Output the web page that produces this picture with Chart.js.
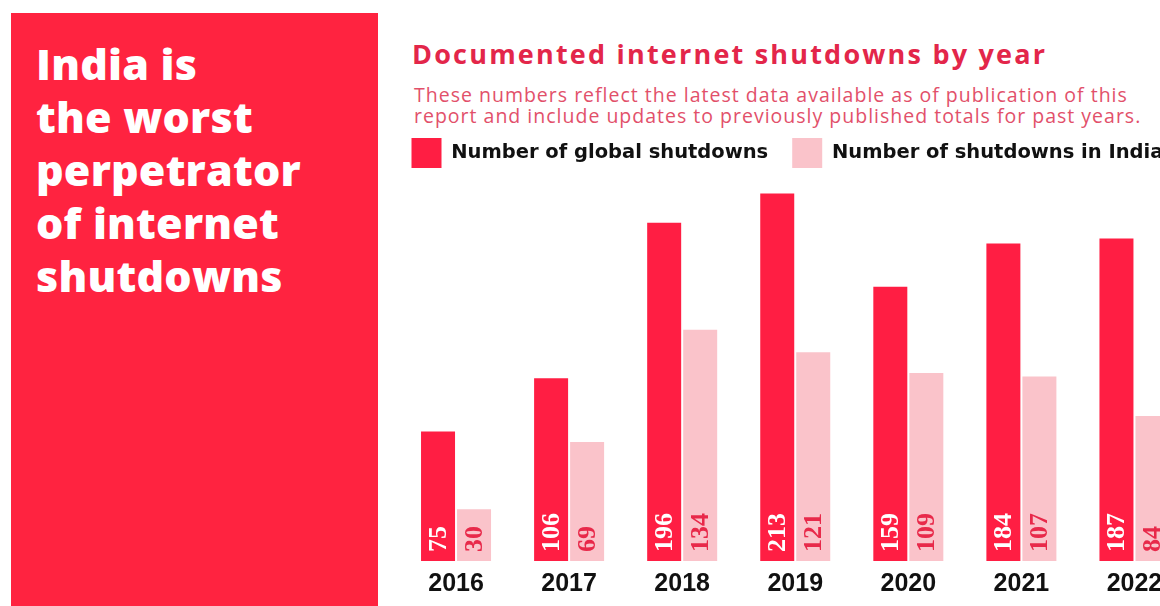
<!DOCTYPE html>
<html>
<head>
<meta charset="utf-8">
<script src="https://cdn.jsdelivr.net/npm/chart.js@4.4.1/dist/chart.umd.min.js"></script>
<style>
    html, body {
        margin: 0;
        padding: 0;
        width: 1160px;
        height: 606px;
        overflow: hidden;
        background: #ffffff;
    }
    .side {
        position: absolute;
        left: 11px;
        top: 13px;
        width: 367px;
        height: 593px;
        background: #ff2340;
    }
    .side h1 {
        position: absolute;
        left: 25px;
        top: 24px;
        margin: 0;
        font-family: 'Open Sans', sans-serif;
        font-weight: 800;
        font-size: 43px;
        line-height: 53px;
        color: #ffffff;
        letter-spacing: 0.2px;
    }
    .head {
        position: absolute;
        left: 412px;
        top: 34px;
    }
    .head h2 {
        margin: 0;
        font-family: 'Open Sans', sans-serif;
        font-weight: 700;
        font-size: 27px;
        line-height: 40px;
        letter-spacing: 2.2px;
        color: #e3264a;
        white-space: nowrap;
    }
    .head p {
        margin: 10px 0 0 2px;
        font-family: 'Open Sans', sans-serif;
        font-size: 19.5px;
        line-height: 21px;
        letter-spacing: 1px;
        color: #e2506a;
        white-space: nowrap;
    }
    .chart-box {
        position: absolute;
        left: 380px;
        top: 113px;
        width: 811px;
        height: 493px;
    }
</style>
</head>
<body>
<div class="side">
    <h1>India is<br>the worst<br>perpetrator<br>of internet<br>shutdowns</h1>
</div>
<div class="head">
    <h2>Documented internet shutdowns by year</h2>
    <p>These numbers reflect the latest data available as of publication of this<br>report and include updates to previously published totals for past years.</p>
</div>
<div class="chart-box">
    <canvas id="shutdown-chart"></canvas>
</div>

<script>
    // данные с картинки
    const years = ['2016', '2017', '2018', '2019', '2020', '2021', '2022'];
    const globalShutdowns = [75, 106, 196, 213, 159, 184, 187];
    const indiaShutdowns = [30, 69, 134, 121, 109, 107, 84];

    const colors = {
        red: '#ff1e43',
        pink: '#fac3ca',
        labelRed: '#e8294a'
    };

    // подписи значений внутри столбцов, повернутые на 90°
    const barLabelsPlugin = {
        id: 'barLabelsPlugin',
        afterDatasetsDraw(chart) {
            const ctx = chart.ctx;
            chart.data.datasets.forEach((ds, i) => {
                const meta = chart.getDatasetMeta(i);
                meta.data.forEach((bar, j) => {
                    ctx.save();
                    ctx.translate(bar.x, bar.base - 9);
                    ctx.rotate(-Math.PI / 2);
                    ctx.font = "bold 26px 'Liberation Serif', serif";
                    ctx.fillStyle = i === 0 ? '#ffffff' : colors.labelRed;
                    ctx.textAlign = 'left';
                    ctx.textBaseline = 'middle';
                    ctx.fillText(ds.data[j], 0, 1);
                    ctx.restore();
                });
            });
        }
    };

    new Chart(document.getElementById('shutdown-chart'), {
        type: 'bar',
        data: {
            labels: years,
            datasets: [{
                label: 'Number of global shutdowns',
                data: globalShutdowns,
                backgroundColor: colors.red,
                borderWidth: 0
            }, {
                label: 'Number of shutdowns in India',
                data: indiaShutdowns,
                backgroundColor: colors.pink,
                borderWidth: 0
            }]
        },
        options: {
            responsive: true,
            maintainAspectRatio: false,
            animation: false,
            events: [],
            categoryPercentage: 0.637,
            barPercentage: 0.944,
            layout: {
                padding: {left: 7.5, right: 0, top: 1, bottom: 7}
            },
            plugins: {
                legend: {
                    display: true,
                    position: 'top',
                    align: 'start',
                    labels: {
                        boxWidth: 30,
                        boxHeight: 30,
                        padding: 24,
                        font: {
                            family: "'DejaVu Sans', sans-serif",
                            size: 19.5,
                            weight: 'bold'
                        },
                        color: '#111111'
                    }
                },
                tooltip: {enabled: false}
            },
            scales: {
                x: {
                    grid: {display: false},
                    border: {display: false},
                    ticks: {
                        padding: 0,
                        color: '#111111',
                        font: {
                            family: "'Liberation Sans', sans-serif",
                            size: 25,
                            weight: 'bold'
                        }
                    }
                },
                y: {
                    min: 0,
                    max: 222,
                    grid: {display: false},
                    border: {display: false},
                    ticks: {display: false},
                    // пустая ось только как отступ слева
                    afterFit(scale) {
                        scale.width = 12;
                    }
                }
            }
        },
        plugins: [barLabelsPlugin]
    });
</script>
</body>
</html>
